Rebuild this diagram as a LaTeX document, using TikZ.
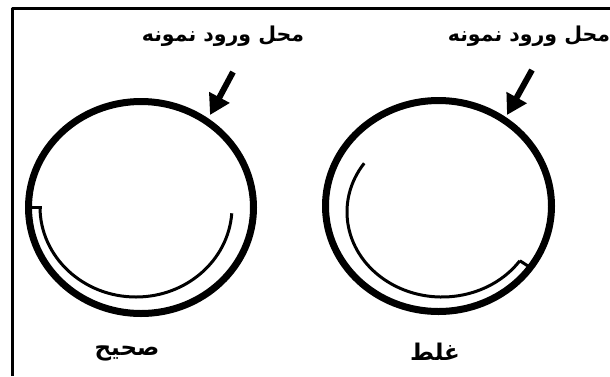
\documentclass[tikz,border=0pt]{standalone}
\usepackage{fontspec}
\newfontfamily\arabicfont[Script=Arabic]{DejaVu Sans}
\TeXXeTstate=1
\usetikzlibrary{arrows.meta}
\begin{document}
\begin{tikzpicture}[x=1pt, y=-1pt, line join=round,
	ring/.style={line width=7pt},
	tube/.style={line width=3pt},
	pointer/.style={line width=6pt, -{Triangle[length=20pt,width=22pt]}},
	farsi/.style={font=\arabicfont\bfseries\fontsize{20.5}{24}\selectfont, inner sep=0pt},
	verdict/.style={font=\arabicfont\bfseries\fontsize{23}{27}\selectfont, inner sep=0pt}]
	\useasboundingbox (0,0) rectangle (610,376);
	
	% قاب
	\draw[line width=3pt] (12,376) -- (12,8) -- (610,8);
	
	% حالت صحیح
	\draw[ring] (141,207.5) ellipse [x radius=112.5, y radius=106];
	\draw[tube] (136,207) ++(180:96 and 90) arc [start angle=180, end angle=4, x radius=96, y radius=90];
	\draw[tube] (31.5,207) -- (41.5,207);
	\node[farsi] (inleft) at (223,36) {\beginR محل ورود نمونه\endR};
	\coordinate (lefttail) at (233,72);
	\coordinate (lefttip) at (210,115);
	\draw[pointer] (lefttail) -- (lefttip);
	\node[verdict] (right) at (127,353) {\beginR صحیح\endR};
	
	% حالت غلط
	\draw[ring] (438.5,206) ellipse [x radius=113, y radius=105.5];
	\draw[tube] (442,212) ++(215:95 and 85) arc [start angle=215, end angle=35, x radius=95, y radius=85];
	\draw[tube] (442,212) ++(35:95 and 85) -- (528,266);
	\node[farsi] (inright) at (529,36) {\beginR محل ورود نمونه\endR};
	\coordinate (righttail) at (532,70);
	\coordinate (righttip) at (507,115);
	\draw[pointer] (righttail) -- (righttip);
	\node[verdict] (wrong) at (435,352) {\beginR غلط\endR};
\end{tikzpicture}
\end{document}
